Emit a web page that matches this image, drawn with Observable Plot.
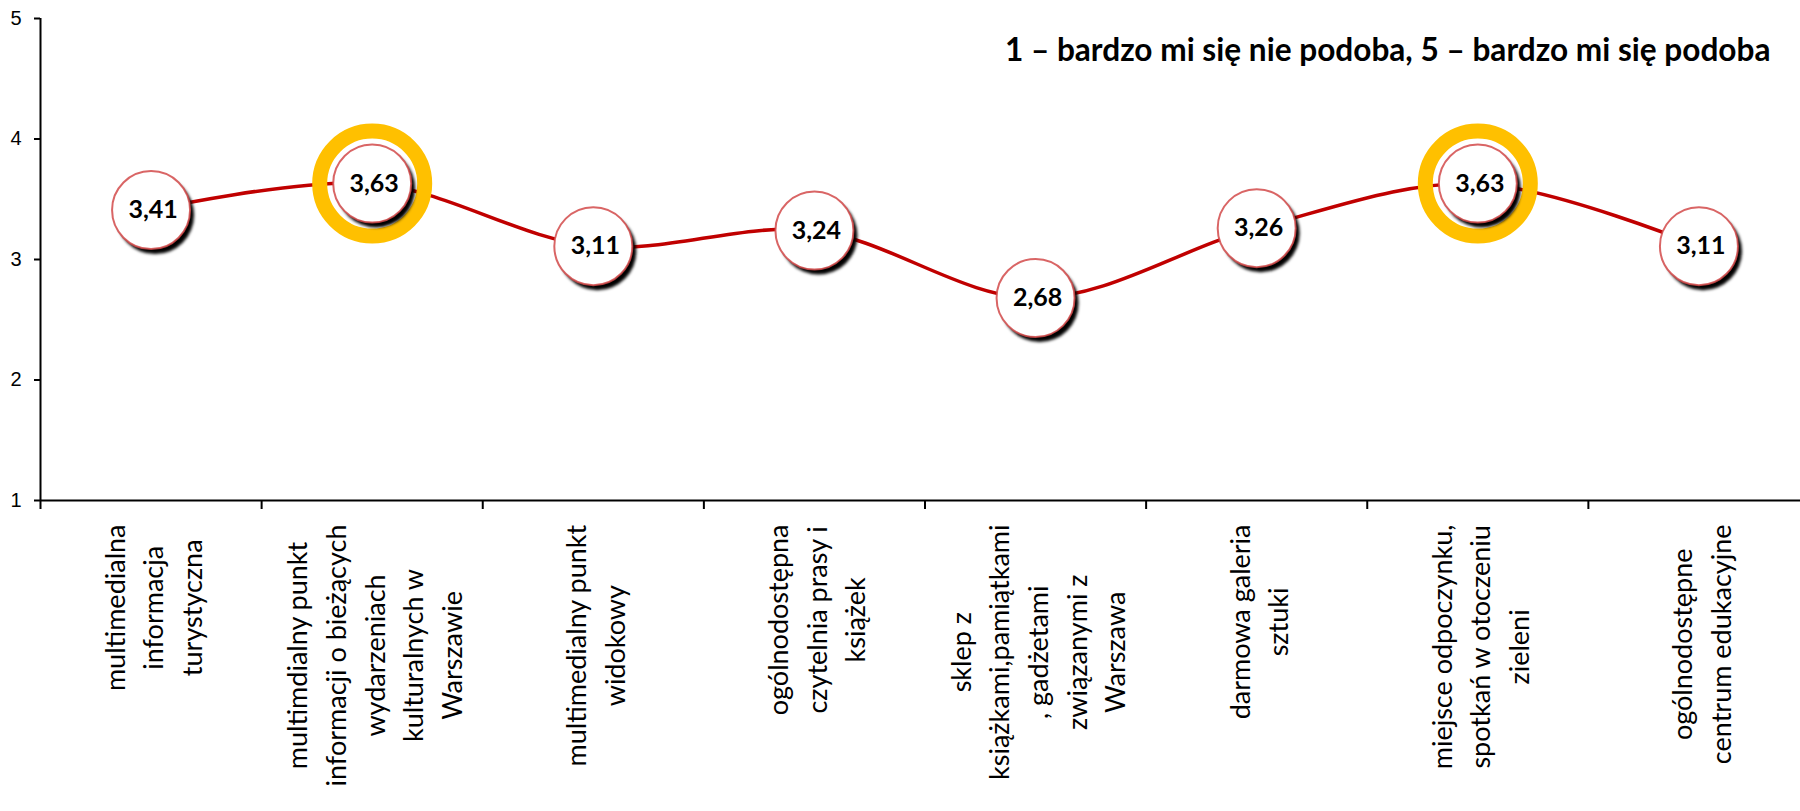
<!DOCTYPE html>
<html>
<head>
<meta charset="utf-8">
<script src="https://cdn.jsdelivr.net/npm/d3@7"></script>
<script src="https://cdn.jsdelivr.net/npm/@observablehq/plot@0.6"></script>
<style>
  html, body { margin: 0; padding: 0; background: #fff; }
  #chart { width: 1800px; height: 811px; }
</style>
</head>
<body>
<div id="chart"></div>
<script>
// ---- data ----
const categories = [
  "multimedialna informacja turystyczna",
  "multimdialny punkt informacji o bieżących wydarzeniach kulturalnych w Warszawie",
  "multimedialny punkt widokowy",
  "ogólnodostępna czytelnia prasy i książek",
  "sklep z książkami,pamiątkami , gadżetami związanymi z Warszawa",
  "darmowa galeria sztuki",
  "miejsce odpoczynku, spotkań w otoczeniu zieleni",
  "ogólnodostępne centrum edukacyjne"
];
const labelLines = [
  ["multimedialna", "informacja", "turystyczna"],
  ["multimdialny punkt", "informacji o bieżących", "wydarzeniach", "kulturalnych w", "Warszawie"],
  ["multimedialny punkt", "widokowy"],
  ["ogólnodostępna", "czytelnia prasy i", "książek"],
  ["sklep z", "książkami,pamiątkami", ", gadżetami", "związanymi z", "Warszawa"],
  ["darmowa galeria", "sztuki"],
  ["miejsce odpoczynku,", "spotkań w otoczeniu", "zieleni"],
  ["ogólnodostępne", "centrum edukacyjne"]
];
const values = [3.41, 3.63, 3.11, 3.24, 2.68, 3.26, 3.63, 3.11];
const highlighted = [false, true, false, false, false, false, true, false];
const yTicks = [1, 2, 3, 4, 5];
const note = "1 – bardzo mi się nie podoba, 5 – bardzo mi się podoba";

// ---- table ----
const rows = categories.map((c, i) => ({
  category: c, pos: i + 0.5, value: values[i], hi: highlighted[i], lines: labelLines[i]
}));
const boundaries = categories.map((c, i) => i);

const fmt = v => v.toFixed(2).replace(".", ",");

// measure label widths for block placement
const labelSize = 27;
const cv = document.createElement("canvas").getContext("2d");
cv.font = `${labelSize}px Lato`;
const labelMarks = rows.map(r => {
  const maxW = d3.max(r.lines, l => cv.measureText(l).width);
  return Plot.text([r], {
    x: "pos",
    frameAnchor: "bottom",
    text: d => d.lines.join("\n"),
    rotate: -90,
    dy: 24 + maxW / 2,
    textAnchor: "middle",
    lineAnchor: "middle",
    lineHeight: 1.43,
    fontSize: labelSize,
    fontFamily: "Lato",
    fill: "#000"
  });
});

const chart = Plot.plot({
  width: 1800,
  height: 811,
  marginTop: 18,
  marginBottom: 311,
  marginLeft: 40,
  marginRight: 0,
  style: { background: "#fff", overflow: "visible" },
  x: { domain: [0, categories.length], range: [40, 1809] },
  y: { domain: [1, 5], label: null },
  marks: [
    Plot.axisY({
      ticks: yTicks, tickSize: 6, tickPadding: 13, label: null, tickFormat: d => String(d),
      fontSize: 20, fontFamily: "Liberation Sans, Arial", strokeWidth: 2, color: "#000"
    }),
    Plot.axisX({
      ticks: boundaries, tickSize: 9, tickFormat: () => "", label: null,
      strokeWidth: 2, color: "#000"
    }),
    Plot.ruleY([1], { stroke: "#000", strokeWidth: 2 }),
    Plot.ruleX([0], { stroke: "#000", strokeWidth: 2 }),
    Plot.line(rows, { x: "pos", y: "value", curve: "catmull-rom", stroke: "#C00000", strokeWidth: 3.5 }),
    Plot.dot(rows.filter(d => d.hi), { x: "pos", y: "value", r: 52.5, fill: "none", stroke: "#FFC000", strokeWidth: 15 }),
    Plot.dot(rows, { x: "pos", y: "value", r: 39, fill: "#000", dx: 4, dy: 5, imageFilter: "blur(1.5px)" }),
    Plot.dot(rows, { x: "pos", y: "value", r: 39, fill: "#fff", stroke: "#d24a4a", strokeWidth: 2, strokeOpacity: 0.85 }),
    Plot.text(rows, {
      x: "pos", y: "value", text: d => fmt(d.value),
      fontSize: 25, fontWeight: "bold", fontFamily: "Lato", fill: "#000", dx: 2
    }),
    Plot.text([note], {
      frameAnchor: "top-right", text: d => d, dx: -30, dy: 32,
      textAnchor: "end", lineAnchor: "middle",
      fontSize: 31.6, fontWeight: "bold", fontFamily: "Lato", fill: "#000"
    }),
    ...labelMarks
  ]
});
document.getElementById("chart").appendChild(chart);
</script>
</body>
</html>
